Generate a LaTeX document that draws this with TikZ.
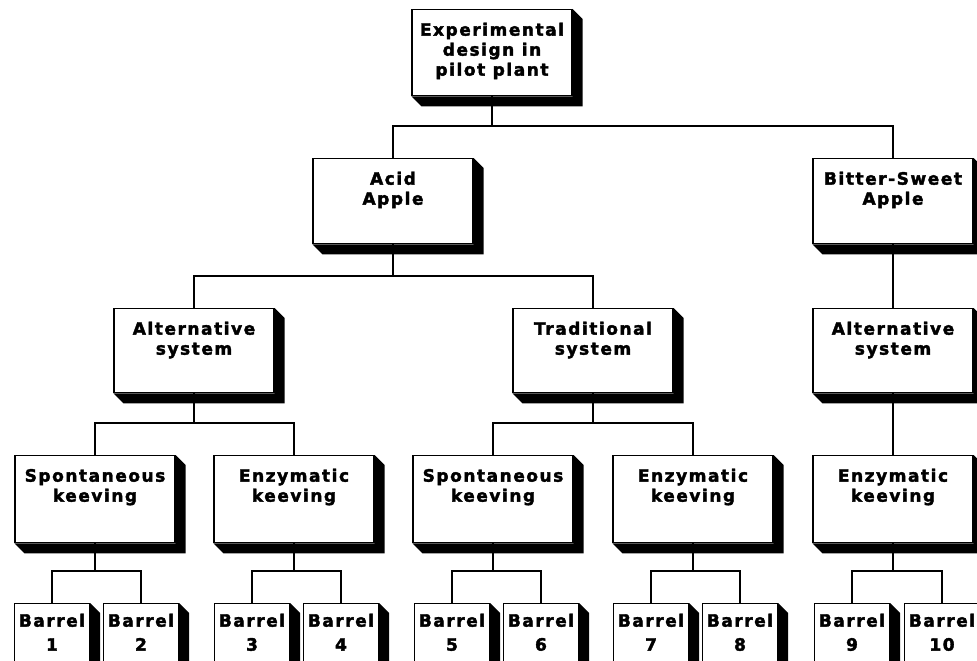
\documentclass[tikz,border=0pt]{standalone}
\usepackage{fontspec}
\setmainfont{DejaVu Sans}[LetterSpace=9,BoldFeatures={FakeBold=2.2}]
\usepackage{tikz}
\tikzset{
	box/.style={draw,line width=1.3pt,fill=white,inner sep=0pt,anchor=north},
	link/.style={line width=1.3pt}
}
\newcommand{\boxtext}[2]{\parbox[c][#1][t]{160pt}{\centering\rule{0pt}{26pt}#2}}
\newcommand{\barreltext}[1]{\parbox[c][70pt][t]{75pt}{\centering\rule{0pt}{23pt}Barrel\\[4pt]#1}}

\begin{document}
\begin{tikzpicture}[x=1pt,y=-1pt,font=\fontsize{17pt}{20pt}\selectfont\bfseries]
						\clip (0,0) rectangle (977,661);
						\node [box] (top) at (492,9) {\boxtext{86pt}{Experimental\\design in\\pilot plant}};
						\node [box] (acid) at (393,158) {\boxtext{85pt}{Acid\\Apple}};
						\node [box] (bitter) at (893,158) {\boxtext{85pt}{Bitter-Sweet\\Apple}};
						\node [box] (alt1) at (194,308) {\boxtext{84pt}{Alternative\\system}};
						\node [box] (trad) at (593,308) {\boxtext{84pt}{Traditional\\system}};
						\node [box] (alt2) at (893,308) {\boxtext{84pt}{Alternative\\system}};
						\node [box] (spont1) at (95,455) {\boxtext{87pt}{Spontaneous\\keeving}};
						\node [box] (enz1) at (294,455) {\boxtext{87pt}{Enzymatic\\keeving}};
						\node [box] (spont2) at (493,455) {\boxtext{87pt}{Spontaneous\\keeving}};
						\node [box] (enz2) at (693,455) {\boxtext{87pt}{Enzymatic\\keeving}};
						\node [box] (enz3) at (893,455) {\boxtext{87pt}{Enzymatic\\keeving}};
						\node [box] (b1) at (52,603) {\barreltext{1}};
						\node [box] (b2) at (141,603) {\barreltext{2}};
						\node [box] (b3) at (252,603) {\barreltext{3}};
						\node [box] (b4) at (341,603) {\barreltext{4}};
						\node [box] (b5) at (452,603) {\barreltext{5}};
						\node [box] (b6) at (541,603) {\barreltext{6}};
						\node [box] (b7) at (651,603) {\barreltext{7}};
						\node [box] (b8) at (740,603) {\barreltext{8}};
						\node [box] (b9) at (852,603) {\barreltext{9}};
						\node [box] (b10) at (942,603) {\barreltext{10}};
						
						\foreach \n in {top,acid,bitter,alt1,trad,alt2,spont1,enz1,spont2,enz2,enz3,b1,b2,b3,b4,b5,b6,b7,b8,b9,b10}
							\fill (\n.north east) -- ++(10pt,-10pt) -- ([shift={(10pt,-10pt)}]\n.south east) -- ([shift={(10pt,-10pt)}]\n.south west) -- (\n.south west) -- (\n.south east) -- cycle;
						
						\foreach \p/\a/\b in {top/acid/bitter,acid/alt1/trad,alt1/spont1/enz1,trad/spont2/enz2,spont1/b1/b2,enz1/b3/b4,spont2/b5/b6,enz2/b7/b8,enz3/b9/b10}{
							\draw [link] (\p.south) |- ([yshift=32pt]\a.north) -- (\a.north);
							\draw [link] ([yshift=32pt]\a.north) -| (\b.north);
						}
						\draw [link] (bitter.south) -- (alt2.north);
						\draw [link] (alt2.south) -- (enz3.north);
					\end{tikzpicture}
\end{document}
